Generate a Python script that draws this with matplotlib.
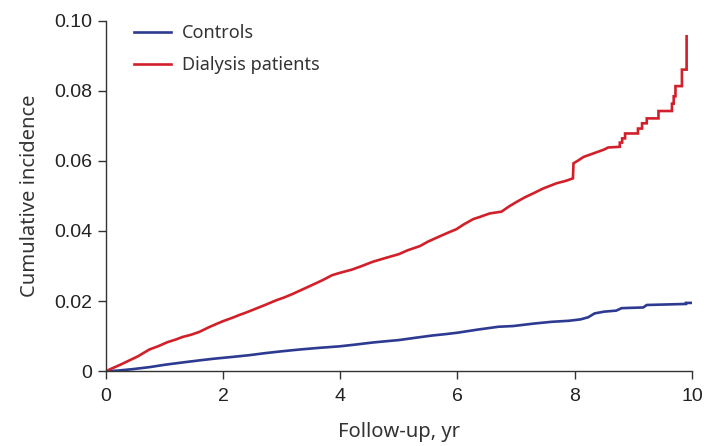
import matplotlib
matplotlib.use("Agg")
import matplotlib.pyplot as plt
from matplotlib.ticker import FixedLocator, FixedFormatter

# Data (cumulative incidence curves; repeated x values mark step risers)
dialysis_t = [0, 0.1, 0.25, 0.4, 0.55, 0.74, 0.9, 1.05, 1.2, 1.31, 1.45, 1.59, 1.75, 1.9,
              2.0, 2.15, 2.27, 2.4, 2.55, 2.73, 2.9, 3.05, 3.18, 3.35, 3.52, 3.7, 3.86,
              4.0, 4.2, 4.35, 4.55, 4.75, 5.0, 5.15, 5.36, 5.5, 5.70, 5.85, 5.98, 6.1,
              6.27, 6.38, 6.55, 6.75, 6.88, 7.01, 7.15, 7.29, 7.46, 7.69, 7.85, 7.97,
              7.98, 8.05, 8.15, 8.40, 8.5, 8.57, 8.77, 8.77, 8.81, 8.81, 8.86, 8.86,
              9.08, 9.08, 9.15, 9.15, 9.23, 9.23, 9.43, 9.43, 9.66, 9.66, 9.69, 9.69,
              9.72, 9.72, 9.83, 9.83, 9.91, 9.91]
dialysis_ci = [0, 0.0008, 0.0019, 0.0031, 0.0043, 0.0062, 0.0072, 0.0083, 0.0091, 0.0098,
               0.0104, 0.0112, 0.0125, 0.0136, 0.0143, 0.0152, 0.0160, 0.0168, 0.0178,
               0.0190, 0.0202, 0.0211, 0.0220, 0.0233, 0.0246, 0.0260, 0.0274, 0.0281,
               0.0290, 0.0299, 0.0312, 0.0322, 0.0334, 0.0345, 0.0357, 0.0370, 0.0385,
               0.0396, 0.0405, 0.0418, 0.0434, 0.0440, 0.0450, 0.0455, 0.0470, 0.0483,
               0.0496, 0.0507, 0.0521, 0.0536, 0.0543, 0.0550, 0.0593, 0.0600, 0.0611,
               0.0626, 0.0632, 0.0638, 0.0640, 0.0652, 0.0652, 0.0664, 0.0664, 0.0678,
               0.0678, 0.0692, 0.0692, 0.0707, 0.0707, 0.0721, 0.0721, 0.0742, 0.0742,
               0.0763, 0.0763, 0.0784, 0.0784, 0.0813, 0.0813, 0.0860, 0.0860, 0.0955]

controls_t = [0, 0.2, 0.45, 0.75, 1.02, 1.3, 1.59, 1.85, 2.16, 2.45, 2.73, 3.0, 3.3, 3.65,
              3.98, 4.25, 4.55, 4.8, 5.0, 5.3, 5.57, 5.8, 6.0, 6.35, 6.7, 6.95, 7.3, 7.6,
              7.9, 8.1, 8.23, 8.34, 8.5, 8.71, 8.8, 9.17, 9.23, 9.9, 9.9, 9.98]
controls_ci = [0, 0.0002, 0.0006, 0.0012, 0.0019, 0.0025, 0.0031, 0.0036, 0.0041, 0.0046,
               0.0052, 0.0057, 0.0062, 0.0067, 0.0071, 0.0076, 0.0082, 0.0086, 0.0089,
               0.0096, 0.0102, 0.0106, 0.0110, 0.0119, 0.0127, 0.0129, 0.0136, 0.0141,
               0.0144, 0.0148, 0.0154, 0.0165, 0.0170, 0.0173, 0.0180, 0.0182, 0.0189,
               0.0192, 0.0195, 0.0195]

series_labels = ["Controls", "Dialysis patients"]
x_ticks = [0, 2, 4, 6, 8, 10]
y_ticks = [0, 0.02, 0.04, 0.06, 0.08, 0.10]
y_tick_labels = ["0", "0.02", "0.04", "0.06", "0.08", "0.10"]

fig = plt.figure(figsize=(7.06, 4.46), dpi=100)
ax = fig.add_axes([0.150, 0.1675, 0.830, 0.7865])

blue = "#2d3a91"
red = "#d2202a"
ax.plot(controls_t, controls_ci, color=blue, lw=1.9, label=series_labels[0],
        solid_joinstyle="miter")
ax.plot(dialysis_t, dialysis_ci, color=red, lw=1.9, label=series_labels[1],
        solid_joinstyle="miter")

ax.set_xlim(0, 10)
ax.set_ylim(0, 0.10)
ax.xaxis.set_major_locator(FixedLocator(x_ticks))
ax.yaxis.set_major_locator(FixedLocator(y_ticks))
ax.yaxis.set_major_formatter(FixedFormatter(y_tick_labels))

for s in ["top", "right"]:
    ax.spines[s].set_visible(False)
for s in ["left", "bottom"]:
    ax.spines[s].set_color("#333333")
    ax.spines[s].set_linewidth(1.0)

ax.tick_params(axis="both", direction="out", length=6, width=1.0, color="#333333",
               labelsize=14, labelcolor="#222222", pad=4)
ax.tick_params(axis="x", pad=6)
for lab in ax.get_xticklabels() + ax.get_yticklabels():
    lab.set_family("Liberation Sans")

ax.set_xlabel("Follow-up, yr", family="Noto Sans", fontsize=14.5, color="#333333", labelpad=12)
ax.set_ylabel("Cumulative incidence", family="Noto Sans", fontsize=14.5, color="#333333", labelpad=10)

leg = ax.legend(loc="upper left", bbox_to_anchor=(0.02, 1.035), frameon=False,
                prop={"family": "Noto Sans", "size": 13}, handlelength=2.05,
                handletextpad=0.6, labelspacing=0.75)
for t in leg.get_texts():
    t.set_color("#333333")

fig.savefig("out.png", dpi=100)
